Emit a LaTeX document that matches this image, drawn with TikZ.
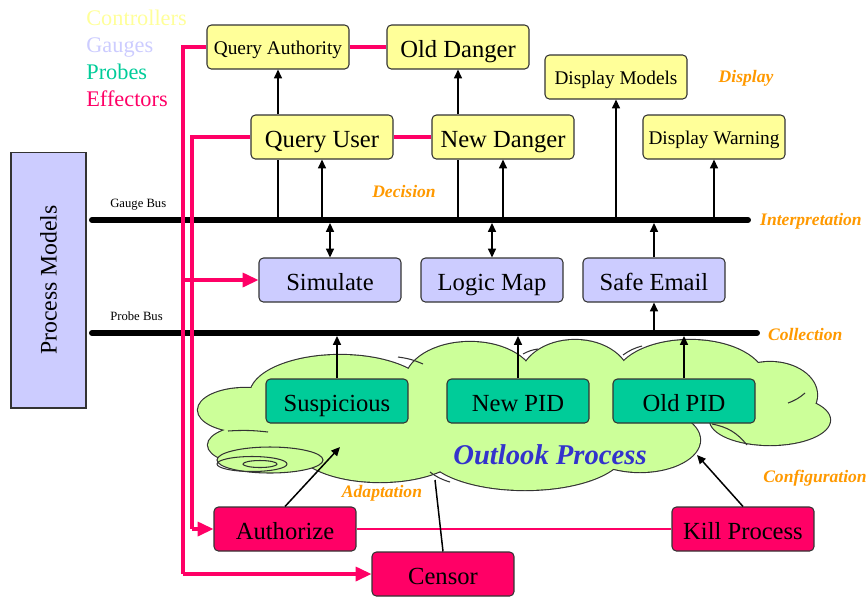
\documentclass[tikz,border=0pt]{standalone}
\usepackage{fontspec}
\setmainfont{Liberation Serif}
\usetikzlibrary{arrows.meta,positioning,calc}

\definecolor{ctrlyellow}{HTML}{FFFF99}
\definecolor{gaugeblue}{HTML}{CCCCFF}
\definecolor{probegreen}{HTML}{00CC99}
\definecolor{effmagenta}{HTML}{FF0066}
\definecolor{cloudgreen}{HTML}{CCFF99}
\definecolor{layerorange}{HTML}{FF9900}
\definecolor{outlookblue}{HTML}{3333CC}
\definecolor{boxline}{HTML}{333333}

\tikzset{
  box/.style={draw=boxline, line width=0.6pt, rounded corners=2.5pt, minimum width=2.84cm, minimum height=0.88cm, inner sep=1pt, text height=11.4pt, text depth=0pt, font=\fontsize{14}{16}\selectfont},
  ctrl/.style={box, fill=ctrlyellow},
  ctrlsmall/.style={ctrl, text height=9pt, font=\fontsize{11}{13}\selectfont},
  gauge/.style={box, fill=gaugeblue},
  probe/.style={box, fill=probegreen},
  effect/.style={box, fill=effmagenta},
  layer/.style={text=layerorange, font=\fontsize{10}{12}\selectfont\bfseries\itshape},
  legend/.style={anchor=base west, inner sep=0pt, font=\fontsize{12.7}{15}\selectfont},
  buslabel/.style={anchor=base west, inner sep=0pt, font=\fontsize{7.2}{9}\selectfont},
  bus/.style={line width=3.4pt, line cap=round},
  line/.style={line width=0.85pt},
  lobe/.style={boxline, line width=0.6pt},
  wire/.style={line width=0.85pt, -{Triangle[length=5pt,width=4.5pt]}},
  both/.style={line width=0.85pt, {Triangle[length=5pt,width=4.5pt]}-{Triangle[length=5pt,width=4.5pt]}},
  effline/.style={draw=effmagenta, line width=2.6pt},
  efflink/.style={draw=effmagenta, line width=2.2pt},
  effthin/.style={draw=effmagenta, line width=1.4pt},
  effarrow/.style={draw=effmagenta, line width=1.8pt, -{Triangle[length=9pt,width=8pt]}}
}

\def\cloudlobes{340/395/90/40, 245/410/47/22, 258/445/50/20, 300/430/30/15, 470/382/65/40, 575/380/55/40, 690/380/75/40, 770/395/47/33, 770/420/60/25, 640/440/60/32, 525/450/100/40, 380/445/85/37, 480/420/180/50}

\begin{document}
\begin{tikzpicture}[x=0.02cm, y=-0.02cm]
\useasboundingbox (0,0) rectangle (868,596);

% Legend
\node[legend, text=ctrlyellow] (lctrl) at (86,25) {Controllers};
\node[legend, text=gaugeblue] (lgauge) at (86,52) {Gauges};
\node[legend, text=probegreen] (lprobe) at (86,79) {Probes};
\node[legend, text=effmagenta] (leff) at (86,106) {Effectors};

% Process models
\node[draw=boxline, line width=0.6pt, fill=gaugeblue, rotate=90, minimum width=5.12cm, minimum height=1.5cm, font=\fontsize{13.5}{16}\selectfont] (pm) at (48.5,280) {Process Models};

% Outlook cloud
\foreach \cx/\cy/\rx/\ry in \cloudlobes
  \draw[boxline, line width=1.3pt] (\cx,\cy) ellipse [x radius=\rx, y radius=\ry];
\foreach \cx/\cy/\rx/\ry in \cloudlobes
  \fill[cloudgreen] (\cx,\cy) ellipse [x radius=\rx, y radius=\ry];
\draw[lobe] (398,357) to[bend left=8] (423,364);
\draw[lobe] (538,349) to[bend right=10] (523,354);
\draw[lobe] (642,346) to[bend right=10] (623,355);
\draw[lobe] (805,393) to[bend left=10] (788,403);
\draw[lobe] (712,424) to[bend left=20] (747,445);
\draw[lobe] (228,431) to[bend left=5] (268,432);
\draw[lobe] (450,482) to[bend left=10] (430,472);
\filldraw[fill=cloudgreen, draw=boxline, line width=0.6pt] (270,460) ellipse [x radius=53, y radius=13];
\draw[lobe] (252,464) ellipse [x radius=35, y radius=7.5];
\draw[lobe] (260,464) ellipse [x radius=17, y radius=3.5];
\node[text=outlookblue, font=\fontsize{16.3}{18}\selectfont\bfseries\itshape] (outlook) at (550,455) {Outlook Process};

% Buses
\coordinate (gbL) at (92,220);
\coordinate (gbR) at (748,220);
\coordinate (pbL) at (92,333);
\coordinate (pbR) at (757,333);
\draw[bus] (gbL) -- (gbR);
\draw[bus] (pbL) -- (pbR);
\node[buslabel] (gblabel) at (110,207) {Gauge Bus};
\node[buslabel] (pblabel) at (110,320) {Probe Bus};

% Controllers
\node[ctrlsmall] (qa) at (278,47) {Query Authority};
\node[ctrl] (od) at (458,47) {Old Danger};
\node[ctrlsmall] (dm) at (616,77) {Display Models};
\node[ctrl] (qu) at (322,137) {Query User};
\node[ctrl] (nd) at (503,137) {New Danger};
\node[ctrlsmall] (dw) at (714,137) {Display Warning};

% Gauges
\node[gauge] (sim) at (330,280) {Simulate};
\node[gauge] (lm) at (492,280) {Logic Map};
\node[gauge] (se) at (654,280) {Safe Email};

% Probes
\node[probe] (sus) at (337,401) {Suspicious};
\node[probe] (npid) at (518,401) {New PID};
\node[probe] (opid) at (684,401) {Old PID};

% Effectors
\node[effect] (auth) at (285,529) {Authorize};
\node[effect] (kill) at (743,529) {Kill Process};
\node[effect] (cen) at (443,574) {Censor};

% Layer labels
\node[layer] (ldisplay) at (746,78) {Display};
\node[layer] (ldecision) at (404,191) {Decision};
\node[layer, anchor=west] (linterp) at (754,221) {Interpretation};
\node[layer, anchor=west] (lcollect) at (762,334) {Collection};
\node[layer] (ladapt) at (382,493) {Adaptation};
\node[layer] (lconfig) at (815,478) {Configuration};

% Controller links
\draw[wire] (qu.north -| qa.south) -- (qa.south);
\draw[wire] (nd.north -| od.south) -- (od.south);
\draw[line] (gbL -| qa.south) -- (qu.south -| qa.south);
\draw[wire] (gbL -| qu.south) -- (qu.south);
\draw[line] (gbL -| od.south) -- (nd.south -| od.south);
\draw[wire] (gbL -| nd.south) -- (nd.south);
\draw[wire] (gbL -| dm.south) -- (dm.south);
\draw[wire] (gbL -| dw.south) -- (dw.south);

% Gauge links
\draw[both, shorten <=1.7pt] (sim.north |- gbL) -- (sim.north);
\draw[both, shorten <=1.7pt] (lm.north |- gbL) -- (lm.north);
\draw[wire, shorten >=1.7pt] (se.north) -- (se.north |- gbL);
\draw[wire] (se.south |- pbL) -- (se.south);

% Probe links
\draw[wire, shorten >=1.7pt] (sus.north) -- (sus.north |- pbL);
\draw[wire, shorten >=1.7pt] (npid.north) -- (npid.north |- pbL);
\draw[wire, shorten >=1.7pt] (opid.north) -- (opid.north |- pbL);

% Effector lines
\coordinate (outer) at (183,0);
\coordinate (inner) at (192,0);
\draw[effline] (qa.west) -| (outer |- cen.west);
\draw[effarrow] (outer |- cen.west) -- (cen.west);
\draw[effline] (qu.west) -| (inner |- auth.west);
\draw[effarrow] (inner |- auth.west) -- (auth.west);
\draw[effarrow] (outer |- sim.west) -- (sim.west);
\draw[efflink] (qa.east) -- (od.west);
\draw[efflink] (qu.east) -- (nd.west);
\draw[effthin] (auth.east) -- (kill.west);

% Into the process
\coordinate (adapt) at (340,447);
\coordinate (config) at (697,455);
\coordinate (censtap) at (435,480);
\draw[wire] (auth.north) -- (adapt);
\draw[wire] (kill.north) -- (config);
\draw[line] (cen.north) -- (censtap);
\end{tikzpicture}
\end{document}
